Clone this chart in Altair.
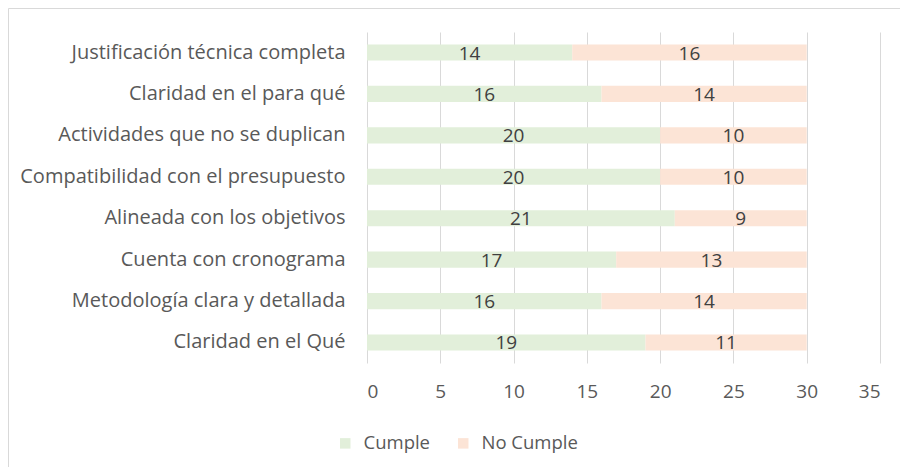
import altair as alt
import pandas as pd

categories = [
    "Justificación técnica completa",
    "Claridad en el para qué",
    "Actividades que no se duplican",
    "Compatibilidad con el presupuesto",
    "Alineada con los objetivos",
    "Cuenta con cronograma",
    "Metodología clara y detallada",
    "Claridad en el Qué",
]
cumple = [14, 16, 20, 20, 21, 17, 16, 19]
no_cumple = [16, 14, 10, 10, 9, 13, 14, 11]
series = ["Cumple", "No Cumple"]
colors = ["#E2EFDA", "#FCE4D6"]
x_ticks = [0, 5, 10, 15, 20, 25, 30, 35]

rows = []
for c, a, b in zip(categories, cumple, no_cumple):
    rows.append({"cat": c, "serie": "Cumple", "val": a, "ord": 0})
    rows.append({"cat": c, "serie": "No Cumple", "val": b, "ord": 1})
df = pd.DataFrame(rows)

FONT = "Open Sans"
FS = 20
NUM_FS = 19

base = alt.Chart(df)

bars = base.mark_bar().encode(
    y=alt.Y("cat:N", sort=categories, title=None,
            scale=alt.Scale(paddingInner=0.61, paddingOuter=0.3),
            axis=alt.Axis(domain=False, ticks=False, grid=False, labelPadding=22,
                          labelFontSize=FS, labelColor="#595959", labelFont=FONT,
                          labelLimit=400)),
    x=alt.X("val:Q", stack="zero", title=None,
            scale=alt.Scale(domain=[0, 35], nice=False),
            axis=alt.Axis(values=x_ticks, domain=False, ticks=False, labelPadding=19,
                          labelFontSize=NUM_FS, labelColor="#595959", labelFont=FONT,
                          grid=True, gridColor="#D9D9D9", gridWidth=1)),
    color=alt.Color("serie:N", sort=series,
                    scale=alt.Scale(domain=series, range=colors),
                    legend=alt.Legend(title=None, orient="none", direction="horizontal",
                                      legendX=-31, legendY=402, padding=0,
                                      symbolType="square", symbolSize=110,
                                      symbolStrokeWidth=0,
                                      labelFontSize=18.5, labelColor="#595959",
                                      labelFont=FONT, labelOffset=9,
                                      columnPadding=23)),
    order=alt.Order("ord:Q"),
)

labels = base.transform_stack(
    stack="val", groupby=["cat"], as_=["v0", "v1"], sort=[alt.SortField("ord")]
).transform_calculate(
    mid="(datum.v0 + datum.v1) / 2"
).mark_text(fontSize=NUM_FS, color="#404040", font=FONT, dy=1).encode(
    y=alt.Y("cat:N", sort=categories),
    x=alt.X("mid:Q"),
    text=alt.Text("val:Q"),
)

edge = pd.DataFrame({"a": [0]})
border_left = alt.Chart(edge).mark_rule(color="#D9D9D9", strokeWidth=1).encode(
    x=alt.value(-358.5), y=alt.value(-23.5), y2=alt.value(600),
)
border_top = alt.Chart(edge).mark_rule(color="#D9D9D9", strokeWidth=1).encode(
    y=alt.value(-23.5), x=alt.value(-358.5), x2=alt.value(700),
)

chart = alt.layer(bars, labels, border_left, border_top).properties(
    width=513, height=331,
    background="white",
    autosize=alt.AutoSizeParams(type="none"),
    padding={"left": 359, "top": 24, "right": 20, "bottom": 104},
).configure_view(stroke="transparent", strokeWidth=0).configure_axis(
    domain=False
)

chart.save("out.html", embed_options={"renderer": "svg", "actions": False})
